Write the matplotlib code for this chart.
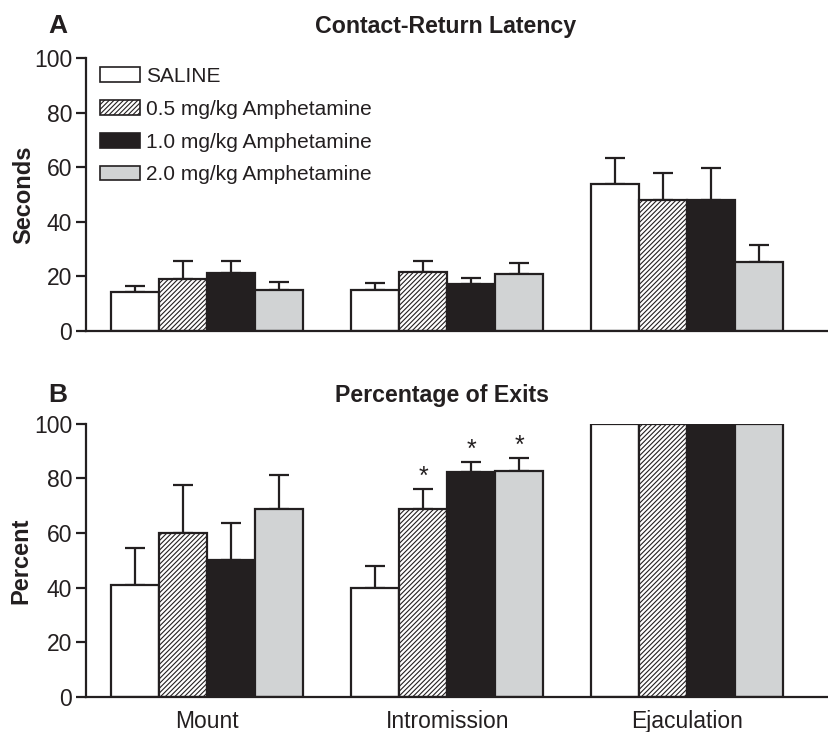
import numpy as np
import matplotlib
matplotlib.use("Agg")
import matplotlib.pyplot as plt
from matplotlib.patches import Patch

plt.rcParams['font.family'] = ['Liberation Sans', 'DejaVu Sans']
plt.rcParams['hatch.linewidth'] = 0.8

categories = ["Mount", "Intromission", "Ejaculation"]
groups = ["SALINE", "0.5 mg/kg Amphetamine", "1.0 mg/kg Amphetamine", "2.0 mg/kg Amphetamine"]

# Panel A: Contact-Return Latency (seconds)
latency_mean = {
    "SALINE": [14.4, 15.2, 53.8],
    "0.5 mg/kg Amphetamine": [19.2, 21.6, 48.0],
    "1.0 mg/kg Amphetamine": [21.1, 17.1, 47.9],
    "2.0 mg/kg Amphetamine": [15.2, 20.9, 25.3],
}
latency_sem = {
    "SALINE": [2.2, 2.4, 9.8],
    "0.5 mg/kg Amphetamine": [6.5, 4.2, 9.9],
    "1.0 mg/kg Amphetamine": [4.6, 2.5, 11.9],
    "2.0 mg/kg Amphetamine": [2.9, 4.0, 6.2],
}
# Panel B: Percentage of exits
exits_mean = {
    "SALINE": [41.0, 39.9, 100],
    "0.5 mg/kg Amphetamine": [60.0, 68.8, 100],
    "1.0 mg/kg Amphetamine": [50.0, 82.4, 100],
    "2.0 mg/kg Amphetamine": [68.9, 82.8, 100],
}
exits_sem = {
    "SALINE": [13.4, 8.0, 0],
    "0.5 mg/kg Amphetamine": [17.6, 7.4, 0],
    "1.0 mg/kg Amphetamine": [13.7, 3.7, 0],
    "2.0 mg/kg Amphetamine": [12.3, 4.6, 0],
}
# significance markers: (category index, group name)
exits_signif = [(1, "0.5 mg/kg Amphetamine"), (1, "1.0 mg/kg Amphetamine"), (1, "2.0 mg/kg Amphetamine")]

styles = {
    "SALINE": dict(facecolor="white", hatch=None),
    "0.5 mg/kg Amphetamine": dict(facecolor="white", hatch="///////"),
    "1.0 mg/kg Amphetamine": dict(facecolor="#231f20", hatch=None),
    "2.0 mg/kg Amphetamine": dict(facecolor="#d1d3d4", hatch=None),
}
ink = "#231f20"
bw = 0.2
lw = 1.6

fig = plt.figure(figsize=(8.29, 7.32), dpi=100)
axA = fig.add_axes([0.1037, 0.5478, 0.8963, 0.3725])
axB = fig.add_axes([0.1037, 0.0478, 0.8963, 0.3734])

x = np.arange(len(categories))

def draw(ax, means, sems):
    for i, g in enumerate(groups):
        pos = x + (i - 1.5) * bw
        m = np.array(means[g], dtype=float)
        s = np.array(sems[g], dtype=float)
        st = styles[g]
        ax.errorbar(pos, m, yerr=[np.zeros_like(s), s], fmt='none', ecolor=ink,
                    elinewidth=lw, capsize=7.5, capthick=lw, zorder=1)
        ax.bar(pos, m, width=bw, facecolor=st["facecolor"], hatch=st["hatch"],
               edgecolor=ink, linewidth=lw, zorder=2)
    ax.set_xlim(-0.504, 2.59)
    ax.set_ylim(0, 100)
    ax.set_yticks([0, 20, 40, 60, 80, 100])
    for sp in ["top", "right"]:
        ax.spines[sp].set_visible(False)
    for sp in ["left", "bottom"]:
        ax.spines[sp].set_linewidth(1.6)
        ax.spines[sp].set_color(ink)
    ax.tick_params(axis='y', direction='out', length=7, width=1.6, color=ink,
                   labelsize=16.5, labelcolor=ink, pad=3)
    ax.tick_params(axis='x', length=0, labelsize=16.5, labelcolor=ink, pad=9)

draw(axA, latency_mean, latency_sem)
draw(axB, exits_mean, exits_sem)

axA.set_xticks([])
axB.set_xticks(x)
axB.set_xticklabels(categories)

for ci, g in exits_signif:
    i = groups.index(g)
    pos = x[ci] + (i - 1.5) * bw
    top = exits_mean[g][ci] + exits_sem[g][ci]
    axB.text(pos, top + 4.5, "*", ha='center', va='center', fontsize=18, color=ink)

axA.set_ylabel("Seconds", fontsize=17, fontweight='bold', color=ink, labelpad=-1)
axB.set_ylabel("Percent", fontsize=17, fontweight='bold', color=ink, labelpad=1)

fig.text(0.537, 0.955, "Contact-Return Latency", fontsize=16.7, fontweight='bold',
         color=ink, ha='center', va='baseline')
fig.text(0.533, 0.4515, "Percentage of Exits", fontsize=16.7, fontweight='bold',
         color=ink, ha='center', va='baseline')
fig.text(0.07, 0.955, "A", fontsize=19, fontweight='bold', color=ink, ha='center', va='baseline')
fig.text(0.07, 0.4515, "B", fontsize=19, fontweight='bold', color=ink, ha='center', va='baseline')

handles = [Patch(facecolor=styles[g]["facecolor"], hatch=styles[g]["hatch"],
                 edgecolor=ink, linewidth=1.2) for g in groups]
leg = axA.legend(handles, groups, loc='upper left', bbox_to_anchor=(0.019, 0.968),
                 frameon=False, fontsize=15, handlelength=1.92, handleheight=0.72,
                 handletextpad=0.3, labelspacing=0.66, borderaxespad=0, borderpad=0)
for t in leg.get_texts():
    t.set_color(ink)

fig.savefig("out.png", dpi=100)
